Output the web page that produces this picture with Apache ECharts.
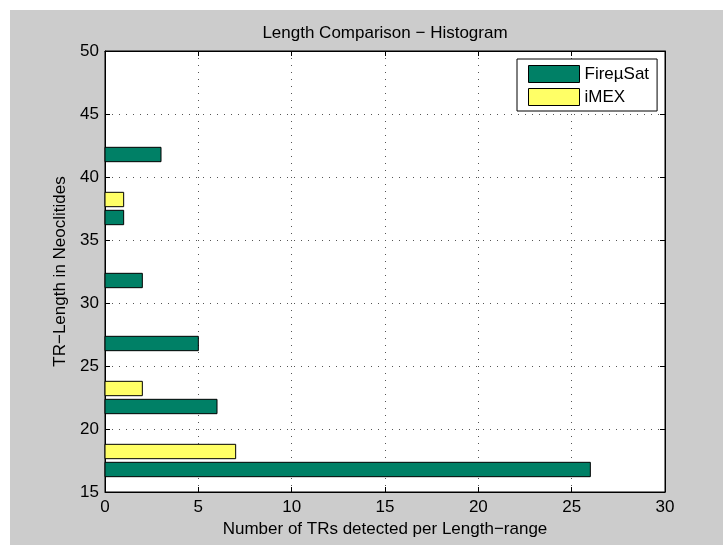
<!DOCTYPE html>
<html>
<head>
<meta charset="utf-8">
<script src="https://cdn.jsdelivr.net/npm/echarts@6/dist/echarts.min.js"></script>
<style>
    body { margin: 0; background: #fff; }
    #chart { position: absolute; left: 10px; top: 10px; width: 713px; height: 535px; background: #cccccc; }
</style>
</head>
<body>
<div id="chart"></div>
<script>
// bin centres of the length ranges and the counts per tool
const lengthBins = [17.5, 22.5, 27.5, 32.5, 37.5, 42.5]
const fireMuSatCounts = [26, 6, 5, 2, 1, 3]
const imexCounts = [7, 2, 0, 0, 1, 0]
const seriesNames = ['FireµSat', 'iMEX']
const seriesColors = ['#008066', '#ffff66']

const fontFamily = 'Liberation Sans, Arial, Helvetica, sans-serif'
const barThick = 1.14   // bar thickness in y units (matlab grouped barh)
const barShift = 0.714  // offset of each bar from the bin centre

function toData(counts) {
    return counts
        .map((c, i) => [c, lengthBins[i]])
        .filter(d => d[0] > 0)
}

function barRenderer(shift) {
    return function (params, api) {
        const yc = api.value(1) + shift
        const p0 = api.coord([0, yc])
        const p1 = api.coord([api.value(0), yc])
        const h = api.size([0, barThick])[1]
        return {
            type: 'rect',
            shape: { x: p0[0], y: p0[1] - h / 2, width: p1[0] - p0[0], height: h },
            style: { fill: api.visual('color'), stroke: '#000', lineWidth: 1 }
        }
    }
}

const gridLine = {
    show: true,
    lineStyle: { color: '#555', type: [1, 6], width: 1 }
}

function valueAxis(min, max, extra) {
    return Object.assign({
        type: 'value',
        min: min,
        max: max,
        interval: 5,
        axisLine: { show: true, onZero: false, lineStyle: { color: '#000', width: 1 } },
        axisTick: { show: true, inside: true, length: 5, lineStyle: { color: '#000' } },
        axisLabel: { color: '#000', fontSize: 17, fontFamily: fontFamily },
        splitLine: { show: false }
    }, extra)
}

const chart = echarts.init(document.getElementById('chart'))

const options = {
    animation: false,
    title: {
        text: 'Length Comparison − Histogram',
        left: 375,
        top: 13,
        padding: 0,
        textAlign: 'center',
        textStyle: { color: '#000', fontSize: 17, fontWeight: 'normal', fontFamily: fontFamily, lineHeight: 20 }
    },
    legend: {
        orient: 'vertical',
        left: 507,
        top: 49,
        padding: [6, 8, 5, 11],
        itemWidth: 51,
        itemHeight: 17,
        itemGap: 5,
        backgroundColor: '#fff',
        borderColor: '#000',
        borderWidth: 1,
        borderRadius: 0,
        textStyle: { color: '#000', fontSize: 17, fontFamily: fontFamily, lineHeight: 17 },
        data: seriesNames.map((n, i) => ({
            name: n,
            icon: 'rect',
            itemStyle: { color: seriesColors[i], borderColor: '#000', borderWidth: 1 }
        }))
    },
    grid: {
        left: 95,
        top: 41,
        right: 58,
        bottom: 53,
        show: true,
        backgroundColor: '#fff',
        borderColor: '#000',
        borderWidth: 1
    },
    xAxis: [
        valueAxis(0, 30, {
            position: 'bottom',
            name: 'Number of TRs detected per Length−range',
            nameLocation: 'middle',
            nameGap: 28,
            nameTextStyle: { color: '#000', fontSize: 17, fontFamily: fontFamily },
            axisLabel: { color: '#000', fontSize: 17, fontFamily: fontFamily, margin: 7 },
            splitLine: gridLine
        }),
        valueAxis(0, 30, { position: 'top', axisLabel: { show: false } })
    ],
    yAxis: [
        valueAxis(15, 50, {
            position: 'left',
            name: 'TR−Length in Neoclitides',
            nameLocation: 'middle',
            nameGap: 35,
            nameTextStyle: { color: '#000', fontSize: 17, fontFamily: fontFamily },
            axisLabel: { color: '#000', fontSize: 17, fontFamily: fontFamily, margin: 6 },
            splitLine: gridLine
        }),
        valueAxis(15, 50, { position: 'right', axisLabel: { show: false } })
    ],
    series: [
        {
            name: seriesNames[0],
            type: 'custom',
            xAxisIndex: 0,
            yAxisIndex: 0,
            itemStyle: { color: seriesColors[0], borderColor: '#000', borderWidth: 1 },
            encode: { x: 0, y: 1 },
            renderItem: barRenderer(-barShift),
            data: toData(fireMuSatCounts)
        },
        {
            name: seriesNames[1],
            type: 'custom',
            xAxisIndex: 0,
            yAxisIndex: 0,
            itemStyle: { color: seriesColors[1], borderColor: '#000', borderWidth: 1 },
            encode: { x: 0, y: 1 },
            renderItem: barRenderer(barShift),
            data: toData(imexCounts)
        }
    ]
}

chart.setOption(options)
</script>
</body>
</html>
